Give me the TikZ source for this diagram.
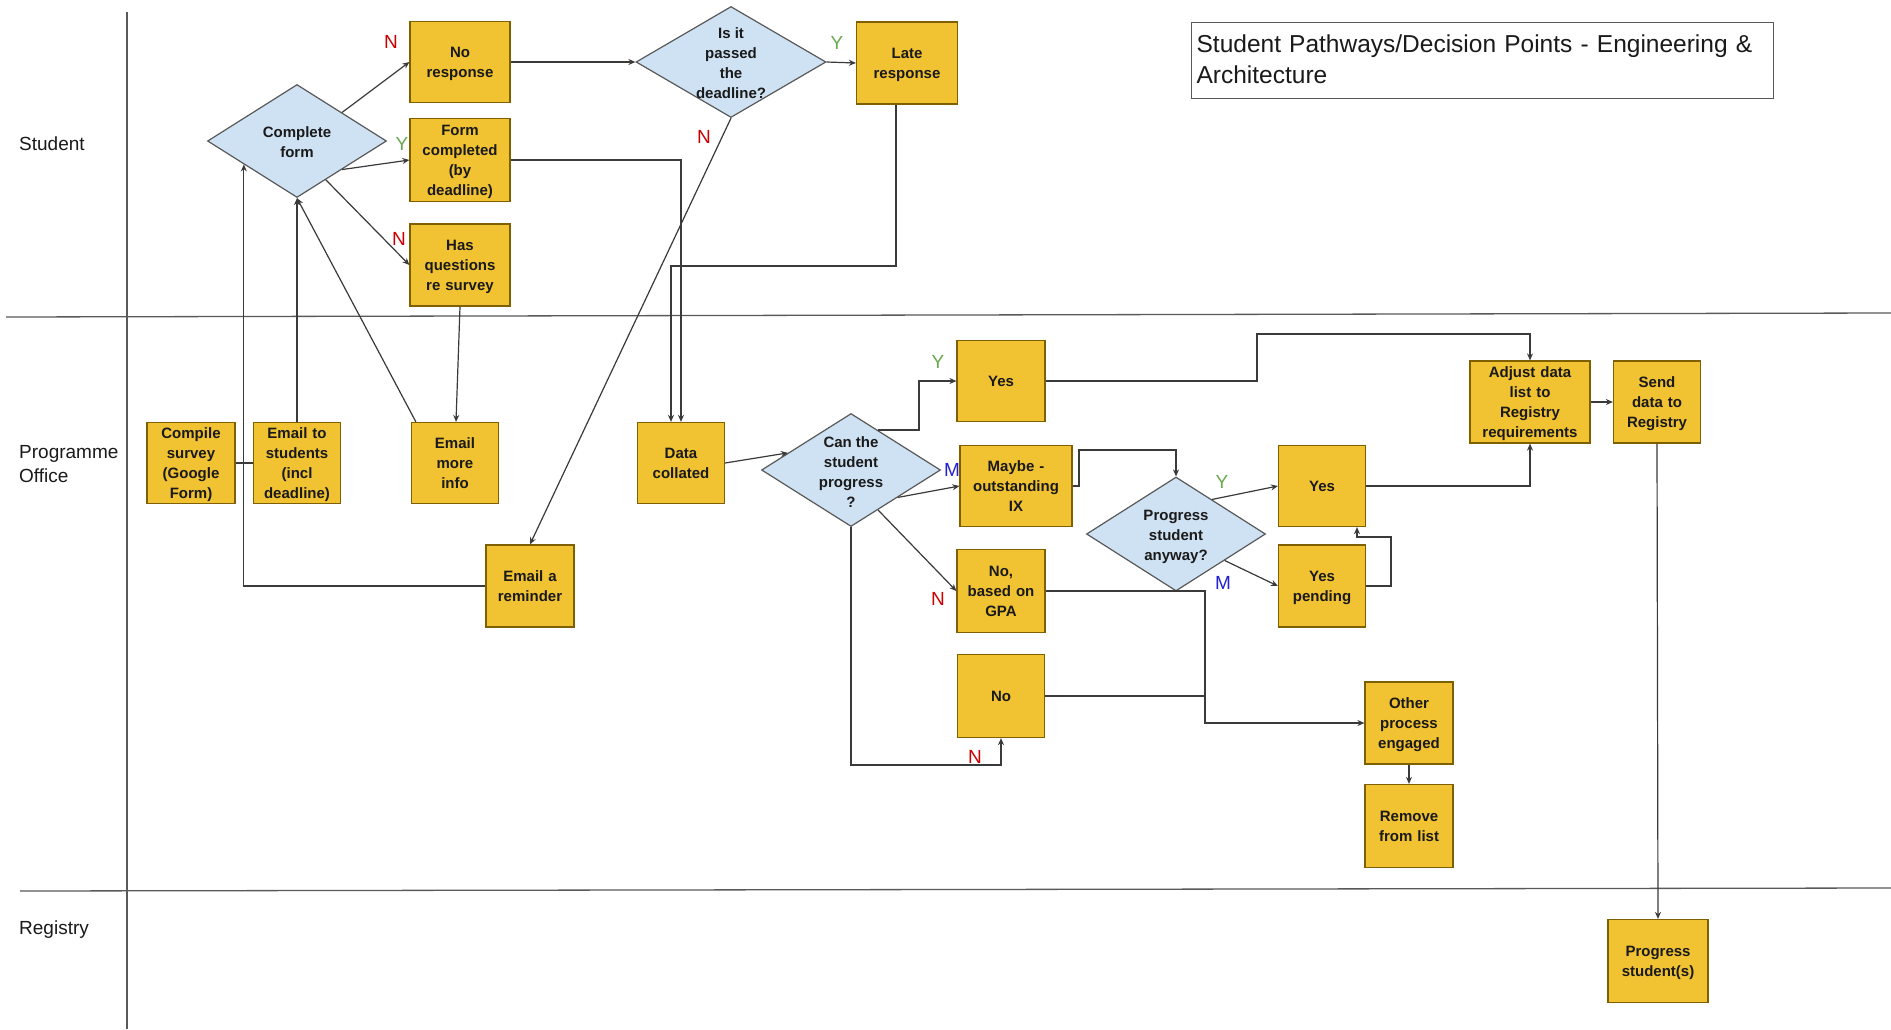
\documentclass[tikz,border=0pt]{standalone}
\usepackage{fontspec}
\setmainfont{Liberation Sans}
\usetikzlibrary{arrows.meta,calc,shapes.geometric}
\definecolor{boxfill}{HTML}{F1C232}
\definecolor{boxline}{HTML}{7F6000}
\definecolor{diafill}{HTML}{CFE2F3}
\definecolor{dialine}{HTML}{595959}
\definecolor{connc}{HTML}{3A3A3A}
\definecolor{lblred}{HTML}{CC0000}
\definecolor{lblgreen}{HTML}{6AA84F}
\definecolor{lblblue}{HTML}{2020D0}
\definecolor{txtc}{HTML}{1A1A1A}
\tikzset{
  ybox/.style 2 args={draw=boxline, fill=boxfill, line width=1.2pt,
    minimum width=#1, minimum height=#2, text width=#1, inner xsep=0pt, inner ysep=2pt,
    align=center, font=\fontsize{15pt}{20pt}\selectfont\bfseries, text=txtc, text height=11pt},
  dia/.style 2 args={diamond, draw=dialine, fill=diafill, line width=1.2pt,
    minimum width=#1, minimum height=#2, inner sep=0pt},
  diatxt/.style={align=center, inner sep=0pt, font=\fontsize{15pt}{20pt}\selectfont\bfseries, text=txtc, text depth=0pt},
  one/.style={text depth=0pt},
  two/.style={text depth=20pt},
  three/.style={text depth=40pt},
  four/.style={text depth=60pt},
  lanetxt/.style={anchor=west, align=left, inner sep=0pt, font=\fontsize{19pt}{24pt}\selectfont, text=txtc},
  lane/.style={draw=dialine, line width=1.3pt},
  conn/.style={draw=connc, line width=1.2pt},
  arr/.style={conn, -{Stealth[length=7pt,width=6pt]}},
  lbl/.style={inner sep=0pt, font=\fontsize{19pt}{19pt}\selectfont},
  titlebox/.style={draw=dialine, line width=1.2pt, anchor=north west,
    minimum width=582, minimum height=76, text width=572, inner xsep=5pt,
    align=left, font=\fontsize{24.5pt}{31pt}\selectfont, text=txtc,
    text height=18pt, text depth=35pt},
}
\begin{document}
\begin{tikzpicture}[x=1pt,y=-1pt]
\path[use as bounding box] (0,0) rectangle (1891,1029);
\fill[white] (0,0) rectangle (1891,1029);

% swimlanes
\draw[lane] (127,12) -- (127,1029);
\draw[lane] (6,317) -- (1891,313);
\draw[lane] (20,891) -- (1891,888);
\node[lanetxt] (lstud) at (19,144) {Student};
\node[lanetxt] (lprog) at (19,464) {Programme\\Office};
\node[lanetxt] (lreg) at (19,930) {Registry};

% title
\node[titlebox] (title) at (1191,22) {Student Pathways/Decision Points - Engineering \&\\Architecture};

% student lane
\node[dia={179}{113}] (cf) at (297,141) {};
\node[diatxt] (cft) at (297,142) {Complete\\form};
\node[ybox={100}{81}, two] (nr) at (460,62) {No\\response};
\node[ybox={100}{83}, four] (fc) at (460,160) {Form\\completed\\(by\\deadline)};
\node[ybox={100}{82}, three] (hq) at (460,265) {Has\\questions\\re survey};
\node[dia={190}{111}] (ip) at (731,62) {};
\node[diatxt] (ipt) at (731,63) {Is it\\passed\\the\\deadline?};
\node[ybox={101}{82}, two] (lr) at (907,63) {Late\\response};

% programme office lane
\node[ybox={88}{81}, four] (cs) at (191,463) {Compile\\survey\\(Google\\Form)};
\node[ybox={87}{81}, four] (es) at (297,463) {Email to\\students\\(incl\\deadline)};
\node[ybox={87}{81}, three] (em) at (455,463) {Email\\more\\info};
\node[ybox={88}{82}, two] (er) at (530,586) {Email a\\reminder};
\node[ybox={87}{81}, two] (dc) at (681,463) {Data\\collated};
\node[dia={179}{113}] (cd) at (851,470) {};
\node[diatxt] (cdt) at (851,472) {Can the\\student\\progress\\?};
\node[ybox={88}{81}, one] (y1) at (1001,381) {Yes};
\node[ybox={112}{81}, three] (mb) at (1016,486) {Maybe -\\outstanding\\IX};
\node[ybox={88}{83}, three] (ng) at (1001,591) {No,\\based on\\GPA};
\node[ybox={87}{83}, one] (no) at (1001,696) {No};
\node[dia={179}{114}] (pd) at (1176,534) {};
\node[diatxt] (pdt) at (1176,535) {Progress\\student\\anyway?};
\node[ybox={87}{81}, one] (y2) at (1322,486) {Yes};
\node[ybox={87}{82}, two] (yp) at (1322,586) {Yes\\pending};
\node[ybox={88}{82}, three] (op) at (1409,723) {Other\\process\\engaged};
\node[ybox={88}{83}, two] (rl) at (1409,826) {Remove\\from list};
\node[ybox={120}{82}, four] (ad) at (1530,402) {Adjust data\\list to\\Registry\\requirements};
\node[ybox={87}{82}, three] (sd) at (1657,402) {Send\\data to\\Registry};

% registry lane
\node[ybox={100}{83}, two] (ps) at (1658,961) {Progress\\student(s)};

% turning points
\coordinate (cfin) at ($(cf.west)!0.41!(cf.south)$);
\coordinate (lrturn) at (671,266);
\coordinate (cdy) at (919,381);
\coordinate (yturn) at (1257,334);
\coordinate (mturn) at (1079,450);
\coordinate (nturn) at (851,765);
\coordinate (ypturn) at (1391,537);
\coordinate (gturn) at (1205,723);

% connectors
\draw[arr] ($(cf.north)!0.5!(cf.east)$) -- (nr.west);
\draw[arr] ($(cf.east)!0.5!(cf.south)$) -- (fc.west);
\draw[arr] ($(cf.east)!0.68!(cf.south)$) -- (hq.west);
\draw[arr] (nr.east) -- (ip.west);
\draw[arr] (ip.east) -- (lr.west);
\draw[arr] (ip.south) -- (er.north);
\draw[arr] (fc.east) -| (dc.north);
\draw[arr] ([xshift=-11pt]lr.south) |- (lrturn) -- ([xshift=-10pt]dc.north);
\draw[arr] (hq.south) -- ([xshift=1pt]em.north);
\draw[arr] ([xshift=5pt]em.north west) -- (cf.south);
\draw[arr] (es.north) -- (cf.south);
\draw[conn] (cs.east) -- (es.west);
\draw[arr] (er.west) -| (cfin);
\draw[arr] (dc.east) -- ($(cd.west)!0.3!(cd.north)$);
\draw[arr] ($(cd.north)!0.3!(cd.east)$) -| (cdy) -- (y1.west);
\draw[arr] (y1.east) -| (yturn) -| (ad.north);
\draw[arr] ($(cd.east)!0.48!(cd.south)$) -- (mb.west);
\draw[arr] (mb.east) -| (mturn) -| (pd.north);
\draw[arr] ($(cd.east)!0.7!(cd.south)$) -- (ng.west);
\draw[arr] (cd.south) -- (nturn) -| (no.south);
\draw[arr] ($(pd.north)!0.4!(pd.east)$) -- (y2.west);
\draw[arr] ($(pd.east)!0.46!(pd.south)$) -- (yp.west);
\draw[arr] (y2.east) -| (ad.south);
\draw[arr] (yp.east) -| (ypturn) -| ([xshift=35pt]y2.south);
\draw[arr] (ng.east) -| (gturn) -- (op.west);
\draw[conn] (no.east) -- (no.east -| gturn);
\draw[arr] (op.south) -- (rl.north);
\draw[arr] (ad.east) -- (sd.west);
\draw[arr] (sd.south) -- (ps.north);

% branch labels
\node[lbl, text=lblred] (l1) at (391,42) {N};
\node[lbl, text=lblgreen] (l2) at (402,144) {Y};
\node[lbl, text=lblred] (l3) at (399,239) {N};
\node[lbl, text=lblgreen] (l4) at (837,43) {Y};
\node[lbl, text=lblred] (l5) at (704,137) {N};
\node[lbl, text=lblgreen] (l6) at (938,362) {Y};
\node[lbl, text=lblblue] (l7) at (952,470) {M};
\node[lbl, text=lblred] (l8) at (938,599) {N};
\node[lbl, text=lblgreen] (l9) at (1222,482) {Y};
\node[lbl, text=lblblue] (l10) at (1223,583) {M};
\node[lbl, text=lblred] (l11) at (975,757) {N};
\end{tikzpicture}
\end{document}
